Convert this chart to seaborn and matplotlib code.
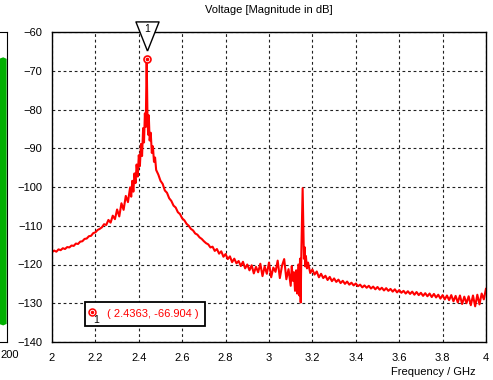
import numpy as np
import pandas as pd
import matplotlib
matplotlib.use("Agg")
import matplotlib.pyplot as plt
from matplotlib.patches import Rectangle
from matplotlib.transforms import blended_transform_factory, offset_copy
import seaborn as sns

# ---------------- data ----------------
freq = [2.00, 2.01, 2.02, 2.03, 2.04, 2.05, 2.06, 2.07, 2.08, 2.09,
        2.10, 2.11, 2.12, 2.13, 2.14, 2.15, 2.16, 2.17, 2.18, 2.19,
        2.20, 2.21, 2.22, 2.23, 2.24, 2.25, 2.26, 2.27, 2.28, 2.29,
        2.30, 2.31, 2.32, 2.33, 2.34, 2.35, 2.36, 2.365, 2.37, 2.375,
        2.38, 2.385, 2.39, 2.395, 2.40, 2.405, 2.41, 2.415, 2.42, 2.424,
        2.428, 2.432, 2.4363, 2.440, 2.443, 2.446, 2.45, 2.455, 2.46, 2.465,
        2.47, 2.475, 2.48, 2.49, 2.50, 2.51, 2.52, 2.53, 2.54, 2.55,
        2.56, 2.57, 2.58, 2.59, 2.60, 2.61, 2.62, 2.63, 2.64, 2.65,
        2.66, 2.67, 2.68, 2.69, 2.70, 2.71, 2.72, 2.73, 2.74, 2.75,
        2.76, 2.77, 2.78, 2.79, 2.80, 2.81, 2.82, 2.83, 2.84, 2.85,
        2.86, 2.87, 2.88, 2.89, 2.90, 2.91, 2.92, 2.93, 2.94, 2.95,
        2.96, 2.97, 2.98, 2.99, 3.00, 3.01, 3.02, 3.03, 3.04, 3.05,
        3.06, 3.07, 3.08, 3.09, 3.10, 3.105, 3.11, 3.115, 3.12, 3.125,
        3.13, 3.135, 3.14, 3.143, 3.146, 3.149, 3.152, 3.155, 3.158, 3.161,
        3.164, 3.167, 3.17, 3.175, 3.18, 3.19, 3.20, 3.21, 3.22, 3.23,
        3.24, 3.25, 3.26, 3.27, 3.28, 3.29, 3.30, 3.31, 3.32, 3.33,
        3.34, 3.35, 3.36, 3.37, 3.38, 3.39, 3.40, 3.41, 3.42, 3.43,
        3.44, 3.45, 3.46, 3.47, 3.48, 3.49, 3.50, 3.51, 3.52, 3.53,
        3.54, 3.55, 3.56, 3.57, 3.58, 3.59, 3.60, 3.61, 3.62, 3.63,
        3.64, 3.65, 3.66, 3.67, 3.68, 3.69, 3.70, 3.71, 3.72, 3.73,
        3.74, 3.75, 3.76, 3.77, 3.78, 3.79, 3.80, 3.81, 3.82, 3.83,
        3.84, 3.85, 3.86, 3.87, 3.88, 3.89, 3.90, 3.91, 3.92, 3.93,
        3.94, 3.95, 3.96, 3.97, 3.98, 3.99, 4.00]

voltage_db = [-116.8, -116.4, -116.7, -116.1, -116.3, -115.8, -116.0, -115.5, -115.6, -115.1,
              -115.2, -114.6, -114.7, -114.1, -114.0, -113.4, -113.3, -112.7, -112.6, -111.9,
              -111.7, -111.1, -110.8, -110.4, -109.6, -109.8, -108.5, -109.2, -107.4, -108.3,
              -105.8, -107.6, -104.2, -105.9, -102.3, -103.9, -100.1, -102.5, -98.4, -101.2,
              -96.5, -99.0, -94.2, -97.3, -91.8, -94.6, -88.9, -92.0, -84.8, -88.5,
              -81.0, -84.5, -66.904, -82.0, -86.5, -81.5, -88.0, -86.0, -91.2, -89.5,
              -93.5, -92.4, -95.6, -96.8, -98.4, -99.2, -100.9, -101.5, -102.9, -103.6,
              -104.8, -105.3, -106.5, -107.0, -108.1, -108.6, -109.5, -110.0, -110.8, -111.2,
              -112.0, -112.3, -113.0, -113.4, -114.0, -114.5, -114.8, -115.6, -115.4, -116.5,
              -116.0, -117.2, -116.6, -118.0, -117.3, -118.6, -117.9, -119.4, -118.5, -119.7,
              -119.1, -120.4, -119.3, -121.0, -120.0, -121.5, -120.2, -122.3, -120.6, -122.0,
              -119.8, -123.0, -120.5, -122.4, -119.5, -123.3, -120.8, -121.9, -119.0, -123.5,
              -120.3, -118.6, -123.8, -121.2, -125.5, -120.4, -124.2, -122.0, -126.8, -121.5,
              -127.5, -120.0, -128.0, -118.5, -129.8, -117.0, -108.0, -100.3, -110.0, -118.5,
              -115.5, -120.5, -117.8, -121.0, -119.5, -122.2, -121.3, -122.6, -121.8, -123.3,
              -122.4, -123.5, -122.9, -124.0, -123.2, -124.3, -123.6, -124.5, -123.9, -124.8,
              -124.2, -125.0, -124.4, -125.2, -124.7, -125.4, -124.9, -125.6, -125.2, -125.9,
              -125.4, -126.0, -125.5, -126.2, -125.7, -126.4, -125.8, -126.5, -126.0, -126.7,
              -126.1, -126.8, -126.3, -127.0, -126.4, -127.2, -126.6, -127.3, -126.8, -127.5,
              -126.9, -127.6, -127.0, -127.8, -127.1, -127.9, -127.3, -128.1, -127.4, -128.2,
              -127.5, -128.4, -127.6, -128.5, -127.8, -128.8, -127.9, -129.0, -128.0, -129.2,
              -127.9, -129.5, -128.1, -129.8, -128.0, -130.2, -128.3, -130.0, -128.2, -130.5,
              -128.0, -130.8, -127.8, -130.3, -127.5, -129.0, -126.2]

x_ticks = [2, 2.2, 2.4, 2.6, 2.8, 3, 3.2, 3.4, 3.6, 3.8, 4]
x_tick_labels = ["2", "2.2", "2.4", "2.6", "2.8", "3", "3.2", "3.4", "3.6", "3.8", "4"]
y_ticks = [-140, -130, -120, -110, -100, -90, -80, -70, -60]

# neighbouring (cut-off) plot on the left
green_x = [150, 170, 185, 197]
green_upper = [0.84, 0.83, 0.84, 0.83]
green_lower = [-0.89, -0.88, -0.89, -0.88]
left_tick = [200]
left_tick_label = ["200"]

title = "Voltage [Magnitude in dB]"
xlabel = "Frequency / GHz"
marker_label = "1"

# ---------------- style ----------------
sns.set_theme(style="white")
plt.rcParams["font.family"] = ["Liberation Sans", "DejaVu Sans"]
plt.rcParams["font.size"] = 8

RED = "#ff0000"
GREEN = "#00b000"

fig = plt.figure(figsize=(4.93, 3.8), dpi=100)
W, H = 493, 380

def pos(l, t, r, b):
    return [l / W, 1 - b / H, (r - l) / W, (b - t) / H]

# left partial axes
ax0 = fig.add_axes(pos(-50, 32, 7, 342))
ax0.fill_between(green_x, green_lower, green_upper, color=GREEN, lw=0)
ax0.set_xlim(0, 200)
ax0.set_ylim(-1, 1)
ax0.set_xticks(left_tick)
ax0.set_xticklabels([])
ax0.set_yticks([])
for s in ax0.spines.values():
    s.set_color("black")
    s.set_linewidth(0.8)
ax0.tick_params(axis="x", direction="out", length=4, color="black", width=0.8)
fig.text(0.5 / W, 1 - 355 / H, left_tick_label[0], ha="left", va="center",
         fontsize=8, color="black")

# main axes
ax = fig.add_axes(pos(52, 32, 486, 342))
df = pd.DataFrame({"freq": freq, "db": voltage_db})
sns.lineplot(data=df, x="freq", y="db", ax=ax, color=RED, linewidth=1.5,
             estimator=None, sort=False)

ax.set_xlim(2, 4)
ax.set_ylim(-140, -60)
ax.set_xticks(x_ticks)
ax.set_xticklabels(x_tick_labels)
ax.set_yticks(y_ticks)
ax.set_xlabel("")
ax.set_ylabel("")
ax.grid(True, color="#202020", linestyle=(0, (2.5, 2.5)), linewidth=0.8)
for s in ax.spines.values():
    s.set_color("black")
    s.set_linewidth(1.0)
ax.tick_params(axis="both", direction="out", length=4, color="black", labelsize=8,
               labelcolor="black", pad=3, width=0.8)
ax.tick_params(axis="x", pad=4)

ax.set_title(title, fontsize=8, color="black", pad=14, x=0.499)
fig.text(476 / W, 1 - 372 / H, xlabel, ha="right", va="center", fontsize=8, color="black")

# marker at the peak
i_peak = int(np.argmax(voltage_db))
peak_x, peak_y = freq[i_peak], voltage_db[i_peak]
ax.plot([peak_x], [peak_y], marker="o", ms=5, mfc="white", mec=RED, mew=1.2,
        zorder=5, clip_on=False)
ax.plot([peak_x], [peak_y], marker="o", ms=1.6, mfc=RED, mec=RED, zorder=6, clip_on=False)

trans = blended_transform_factory(ax.transData, ax.transAxes)
tri = [(0, -14.5), (-11.5, 14.5), (11.5, 14.5), (0, -14.5)]
ax.plot([peak_x], [(342 - 35.5) / 310], marker=tri, ms=21, mfc="white", mec="black",
        mew=1.0, transform=trans, clip_on=False, zorder=7)
ax.text(peak_x, (342 - 29) / 310, marker_label, transform=trans, ha="center", va="center",
        fontsize=7.5, color="black", zorder=8, clip_on=False)

# readout box
box_l, box_r = (85 - 52) / 434, (205 - 52) / 434
box_b, box_t = (342 - 326) / 310, (342 - 302) / 310
ax.add_patch(Rectangle((box_l, box_b), box_r - box_l, box_t - box_b, transform=ax.transAxes,
                       facecolor="white", edgecolor="black", linewidth=1.3, zorder=9))
ax.text((107 - 52) / 434, (342 - 314) / 310, f"( {peak_x:.4f}, {peak_y:.3f} )",
        transform=ax.transAxes, ha="left", va="center", color=RED, fontsize=8, zorder=10)
ax.plot([(92 - 52) / 434], [(342 - 312) / 310], marker="o", ms=5, mfc="white", mec=RED,
        mew=1.1, transform=ax.transAxes, zorder=10, clip_on=False)
ax.plot([(92 - 52) / 434], [(342 - 312) / 310], marker="o", ms=1.5, mfc=RED, mec=RED,
        transform=ax.transAxes, zorder=11, clip_on=False)
ax.text((96 - 52) / 434, (342 - 320) / 310, marker_label, transform=ax.transAxes,
        ha="center", va="center", color="black", fontsize=7.5, zorder=11)

fig.savefig("out.png", dpi=100)
